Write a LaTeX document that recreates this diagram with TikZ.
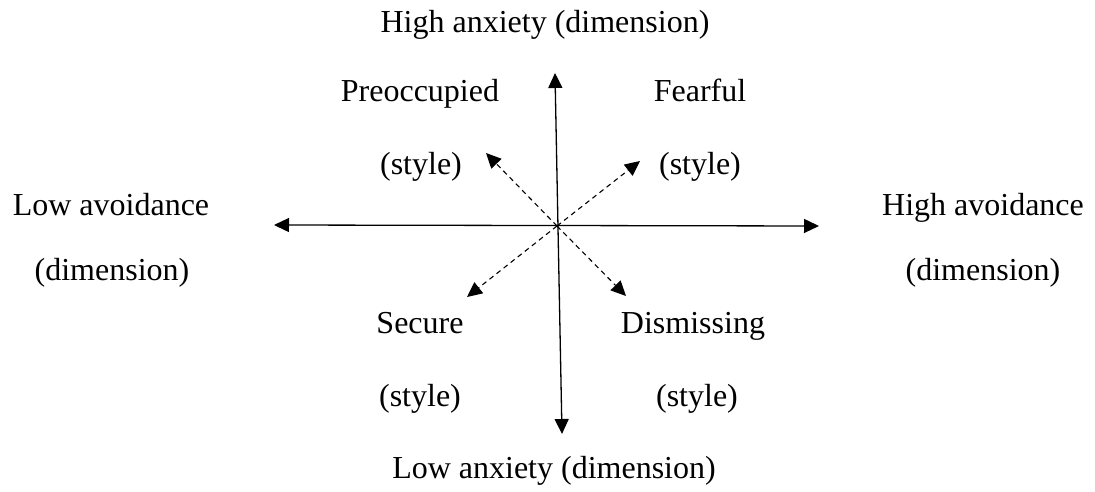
\documentclass[tikz,border=0pt]{standalone}
\usepackage{fontspec}
\setmainfont{Liberation Serif}
\usetikzlibrary{arrows.meta}
\begin{document}
\begin{tikzpicture}[x=1pt,y=-1pt,
  lbl/.style={anchor=base,inner sep=0pt,font=\fontsize{32}{38}\selectfont},
  axis/.style={line width=1.3pt,{Triangle[length=15pt,width=14pt]}-{Triangle[length=15pt,width=14pt]}},
  diag/.style={line width=1.1pt,dash pattern=on 5pt off 4pt,-{Triangle[length=15pt,width=14pt]}}]
\useasboundingbox (0,0) rectangle (1095,492);
% coordinates
\coordinate (O) at (557,226);
\coordinate (T) at (555,73);
\coordinate (B) at (562,434);
\coordinate (L) at (274,225);
\coordinate (R) at (819,226);
\coordinate (UL) at (486,153);
\coordinate (UR) at (640,161);
\coordinate (LL) at (467,297);
\coordinate (LR) at (626,296);
% axes
\draw[axis] (B) -- (T);
\draw[axis] (L) -- (R);
% diagonals
\draw[diag] (O) -- (UL);
\draw[diag] (O) -- (UR);
\draw[diag] (O) -- (LL);
\draw[diag] (O) -- (LR);
% labels
\node[lbl] (hianx) at (545,33) {High anxiety (dimension)};
\node[lbl] (loanx) at (554,478) {Low anxiety (dimension)};
\node[lbl] (loav) at (111,215) {Low avoidance};
\node[lbl] (loavd) at (112,280) {(dimension)};
\node[lbl] (hiav) at (983,215) {High avoidance};
\node[lbl] (hiavd) at (983,280) {(dimension)};
\node[lbl] (preo) at (420,102) {Preoccupied};
\node[lbl] (preos) at (421,175) {(style)};
\node[lbl] (fear) at (700,102) {Fearful};
\node[lbl] (fears) at (700,175) {(style)};
\node[lbl] (sec) at (420,333) {Secure};
\node[lbl] (secs) at (420,406) {(style)};
\node[lbl] (dis) at (693,333) {Dismissing};
\node[lbl] (diss) at (697,406) {(style)};
\end{tikzpicture}
\end{document}
